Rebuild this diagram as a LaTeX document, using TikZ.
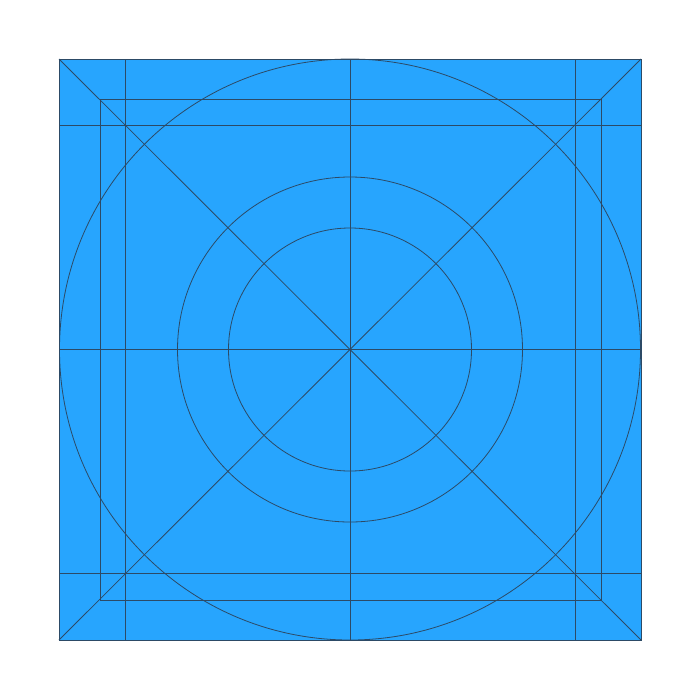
\documentclass[tikz,border=0pt]{standalone}
\usepackage{xcolor}
\definecolor{iconblue}{HTML}{27A5FE}
\definecolor{gridline}{HTML}{2C4A66}
\begin{document}
\begin{tikzpicture}[x=1pt,y=-1pt,
  grid/.style={draw=gridline, line width=0.8pt}]
\useasboundingbox (0,0) rectangle (700,678);
\coordinate (c) at (350,349.5);
\coordinate (tl) at (59,59);
\coordinate (br) at (641,640);
\coordinate (tr) at (641,59);
\coordinate (bl) at (59,640);
\fill[iconblue] (tl) rectangle (br);
% keylines
\draw[grid] (100,99) rectangle (601,600);
\draw[grid] (125.5,59) -- (125.5,640);
\draw[grid] (575,59) -- (575,640);
\draw[grid] (59,125) -- (641,125);
\draw[grid] (59,573.5) -- (641,573.5);
% center lines
\draw[grid] (350,59) -- (350,640);
\draw[grid] (59,349.5) -- (641,349.5);
% diagonals
\draw[grid] (tl) -- (br);
\draw[grid] (tr) -- (bl);
% circles
\draw[grid] (c) circle[radius=290.5];
\draw[grid] (c) circle[radius=172.5];
\draw[grid] (c) circle[radius=121.5];
% border
\draw[grid] (tl) rectangle (br);
\end{tikzpicture}
\end{document}
